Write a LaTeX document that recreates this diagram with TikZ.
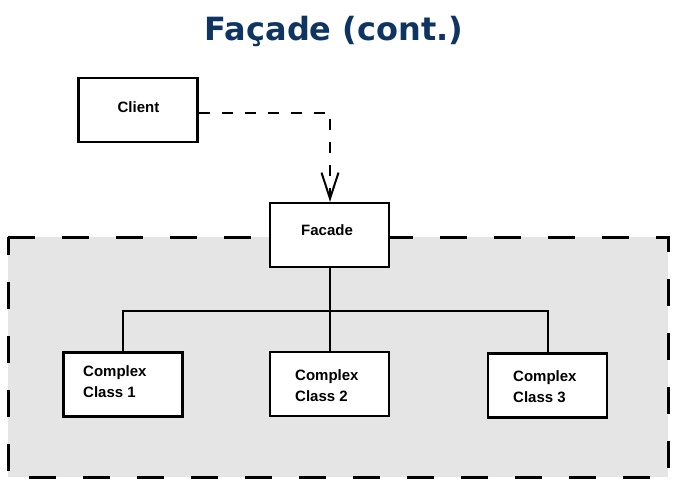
\documentclass[tikz,border=0pt]{standalone}
\usepackage{fontspec}
\setmainfont{Liberation Sans}
\newfontfamily\titlefont{DejaVu Sans}
\usetikzlibrary{arrows.meta,calc}
\definecolor{titleblue}{RGB}{14,52,98}
\definecolor{regiongray}{RGB}{229,229,229}
\tikzset{
  classbox/.style={draw=black, line width=2.4pt, fill=white, minimum width=119pt, minimum height=64pt, inner sep=0pt},
  lbl/.style={font=\fontsize{15}{21}\selectfont\bfseries, inner sep=0pt, align=left},
  tree/.style={line width=2pt},
  region/.style={draw=black, fill=regiongray, line width=3pt, dash pattern=on 27pt off 27pt},
  depend/.style={line width=2pt, dash pattern=on 11pt off 12pt, -{Straight Barb[length=26pt,width=17pt,line width=2pt]}}
}
\begin{document}
\begin{tikzpicture}[x=1pt,y=-1pt]
\useasboundingbox (0,0) rectangle (674,490);
% title
\node[font=\titlefont\fontsize{32}{38}\selectfont\bfseries, text=titleblue, anchor=base] (title) at (334,40) {Façade (cont.)};
% subsystem region
\path[region] (8,237) -- (668,237) -- (668,477) -- (8,477) -- cycle;
% boxes
\node[classbox] (client) at (138,110) {};
\node[classbox] (facade) at (329.5,235) {};
\node[classbox] (c1) at (123,384.5) {};
\node[classbox] (c2) at (329.5,384) {};
\node[classbox] (c3) at (547.5,385.5) {};
% labels
\node[lbl, anchor=base] (clientlbl) at (138.5,112) {Client};
\node[lbl, anchor=base] (facadelbl) at (327,235) {Facade};
\node[lbl, anchor=base west] (c1lbl) at (83,397) {Complex\\Class 1};
\node[lbl, anchor=base west] (c2lbl) at (295,401.5) {Complex\\Class 2};
\node[lbl, anchor=base west] (c3lbl) at (513,402.5) {Complex\\Class 3};
% tree connectors
\coordinate (junction) at (330,311);
\draw[tree] (facade.south -| junction) -- (junction);
\draw[tree] (c1.north) |- (junction);
\draw[tree] (c2.north -| junction) -- (junction);
\draw[tree] (c3.north) |- (junction);
% dependency
\coordinate (bend) at (330,112.5);
\draw[depend] (client.east |- bend) -- (bend) -- (facade.north -| bend);
\end{tikzpicture}
\end{document}
